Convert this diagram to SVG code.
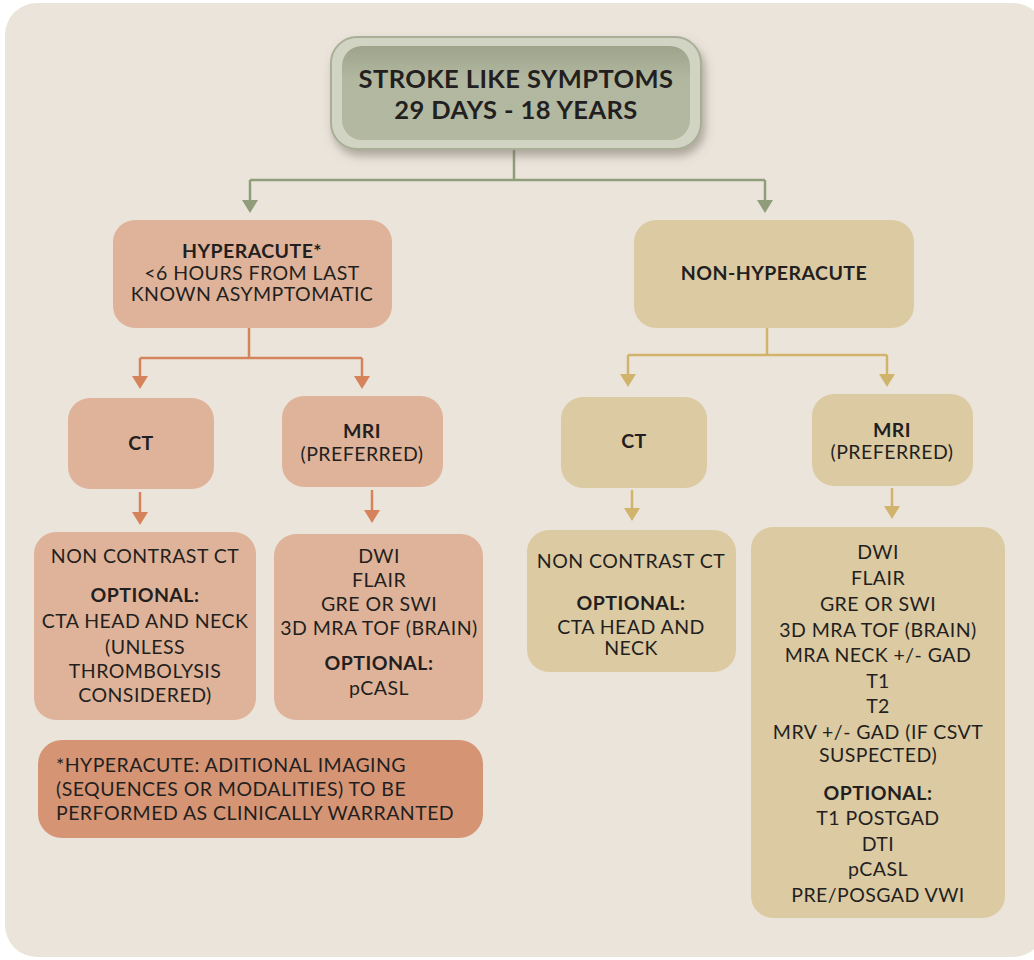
<svg xmlns="http://www.w3.org/2000/svg" width="1034" height="960" viewBox="0 0 1034 960">
  <defs>
    <style>
      .t { font-family: Lato, "Open Sans", "Liberation Sans", sans-serif; fill: #231f20; text-anchor: middle; font-size: 19.5px; letter-spacing: 0.45px; }
      .b { font-weight: bold; }
      .ttl { font-size: 25.5px; letter-spacing: 0.4px; }
      .hy { fill: #dfb399; }
      .nh { fill: #dccaa3; }
      .gl { stroke: #8f9d7a; stroke-width: 2.5; fill: none; }
      .ol { stroke: #d6825a; stroke-width: 2.5; fill: none; }
      .yl { stroke: #d1b46c; stroke-width: 2.5; fill: none; }
    </style>
    <filter id="sh" x="-20%" y="-30%" width="140%" height="170%">
      <feDropShadow dx="3" dy="6" stdDeviation="5" flood-color="#6d6658" flood-opacity="0.5"/>
    </filter>
    <linearGradient id="tg" x1="0" y1="0" x2="0" y2="1">
      <stop offset="0" stop-color="#9ea38b"/>
      <stop offset="0.35" stop-color="#b2b8a0"/>
      <stop offset="1" stop-color="#b3b9a1"/>
    </linearGradient>
  </defs>

  <!-- page panel -->
  <rect x="0" y="0" width="1034" height="960" fill="#ffffff"/>
  <rect x="5" y="3" width="1040" height="954" rx="32" fill="#ebe4db"/>

  <!-- connectors -->
  <g id="connectors">
    <path class="gl" d="M514,150 V180 M250,180 H765 M250,180 V202 M765,180 V202"/>
    <path d="M242,200 H258 L250,213 z M757,200 H773 L765,213 z" fill="#8f9d7a"/>

    <path class="ol" d="M249,328 V358 M140,358 H362 M140,358 V378 M362,358 V378"/>
    <path d="M132,376 H148 L140,389 z M354,376 H370 L362,389 z" fill="#d6825a"/>

    <path class="yl" d="M767,328 V355 M628,355 H887 M628,355 V376 M887,355 V376"/>
    <path d="M620,374 H636 L628,387 z M879,374 H895 L887,387 z" fill="#d1b46c"/>

    <path class="ol" d="M140,492 V514 M372,490 V512"/>
    <path d="M132,512 H148 L140,525 z M364,510 H380 L372,523 z" fill="#d6825a"/>

    <path class="yl" d="M632,490 V510 M892,488 V508"/>
    <path d="M624,508 H640 L632,521 z M884,506 H900 L892,519 z" fill="#d1b46c"/>
  </g>

  <!-- top node -->
  <g id="top">
    <rect x="331" y="37" width="370" height="112" rx="26" fill="#d2d4c3" stroke="#a9ae97" stroke-width="2" filter="url(#sh)"/>
    <rect x="342" y="46" width="348" height="94" rx="20" fill="url(#tg)"/>
    <text class="t b ttl" x="516" y="88">STROKE LIKE SYMPTOMS</text>
    <text class="t b ttl" x="516" y="119">29 DAYS - 18 YEARS</text>
  </g>

  <!-- hyperacute branch -->
  <g id="hyperacute">
    <rect class="hy" x="113" y="220" width="279" height="108" rx="22"/>
    <text class="t b" x="252" y="258">HYPERACUTE*</text>
    <text class="t" x="252" y="280">&lt;6 HOURS FROM LAST</text>
    <text class="t" x="252" y="301">KNOWN ASYMPTOMATIC</text>
  </g>

  <g id="ct-hyper">
    <rect class="hy" x="68" y="398" width="146" height="91" rx="22"/>
    <text class="t b" x="141" y="450">CT</text>
  </g>

  <g id="mri-hyper">
    <rect class="hy" x="282" y="396" width="161" height="91" rx="22"/>
    <text class="t b" x="362" y="438">MRI</text>
    <text class="t" x="362" y="461">(PREFERRED)</text>
  </g>

  <g id="ct-hyper-protocol">
    <rect class="hy" x="34" y="532" width="222" height="188" rx="22"/>
    <text class="t" x="145" y="563">NON CONTRAST CT</text>
    <text class="t b" x="145" y="602">OPTIONAL:</text>
    <text class="t" x="145" y="628">CTA HEAD AND NECK</text>
    <text class="t" x="145" y="654">(UNLESS</text>
    <text class="t" x="145" y="678">THROMBOLYSIS</text>
    <text class="t" x="145" y="702">CONSIDERED)</text>
  </g>

  <g id="mri-hyper-protocol">
    <rect class="hy" x="274" y="534" width="209" height="186" rx="22"/>
    <text class="t" x="379" y="563">DWI</text>
    <text class="t" x="379" y="587">FLAIR</text>
    <text class="t" x="379" y="611">GRE OR SWI</text>
    <text class="t" x="379" y="635">3D MRA TOF (BRAIN)</text>
    <text class="t b" x="379" y="670">OPTIONAL:</text>
    <text class="t" x="379" y="695">pCASL</text>
  </g>

  <g id="footnote">
    <rect x="38" y="740" width="445" height="98" rx="24" fill="#d59575"/>
    <text class="t" x="56" y="772" style="text-anchor:start">*HYPERACUTE: ADITIONAL IMAGING</text>
    <text class="t" x="56" y="796" style="text-anchor:start">(SEQUENCES OR MODALITIES) TO BE</text>
    <text class="t" x="56" y="820" style="text-anchor:start">PERFORMED AS CLINICALLY WARRANTED</text>
  </g>

  <!-- non-hyperacute branch -->
  <g id="non-hyperacute">
    <rect class="nh" x="634" y="220" width="280" height="108" rx="22"/>
    <text class="t b" x="774" y="280">NON-HYPERACUTE</text>
  </g>

  <g id="ct-non">
    <rect class="nh" x="561" y="397" width="146" height="91" rx="22"/>
    <text class="t b" x="634" y="448">CT</text>
  </g>

  <g id="mri-non">
    <rect class="nh" x="812" y="394" width="161" height="92" rx="22"/>
    <text class="t b" x="892" y="437">MRI</text>
    <text class="t" x="892" y="459">(PREFERRED)</text>
  </g>

  <g id="ct-non-protocol">
    <rect class="nh" x="527" y="530" width="209" height="142" rx="22"/>
    <text class="t" x="631" y="568">NON CONTRAST CT</text>
    <text class="t b" x="631" y="610">OPTIONAL:</text>
    <text class="t" x="631" y="634">CTA HEAD AND</text>
    <text class="t" x="631" y="655">NECK</text>
  </g>

  <g id="mri-non-protocol">
    <rect class="nh" x="751" y="527" width="254" height="391" rx="22"/>
    <text class="t" x="878" y="559">DWI</text>
    <text class="t" x="878" y="585">FLAIR</text>
    <text class="t" x="878" y="611">GRE OR SWI</text>
    <text class="t" x="878" y="637">3D MRA TOF (BRAIN)</text>
    <text class="t" x="878" y="662">MRA NECK +/- GAD</text>
    <text class="t" x="878" y="688">T1</text>
    <text class="t" x="878" y="713">T2</text>
    <text class="t" x="878" y="739">MRV +/- GAD (IF CSVT</text>
    <text class="t" x="878" y="762">SUSPECTED)</text>
    <text class="t b" x="878" y="800">OPTIONAL:</text>
    <text class="t" x="878" y="825">T1 POSTGAD</text>
    <text class="t" x="878" y="851">DTI</text>
    <text class="t" x="878" y="876">pCASL</text>
    <text class="t" x="878" y="902">PRE/POSGAD VWI</text>
  </g>
</svg>
